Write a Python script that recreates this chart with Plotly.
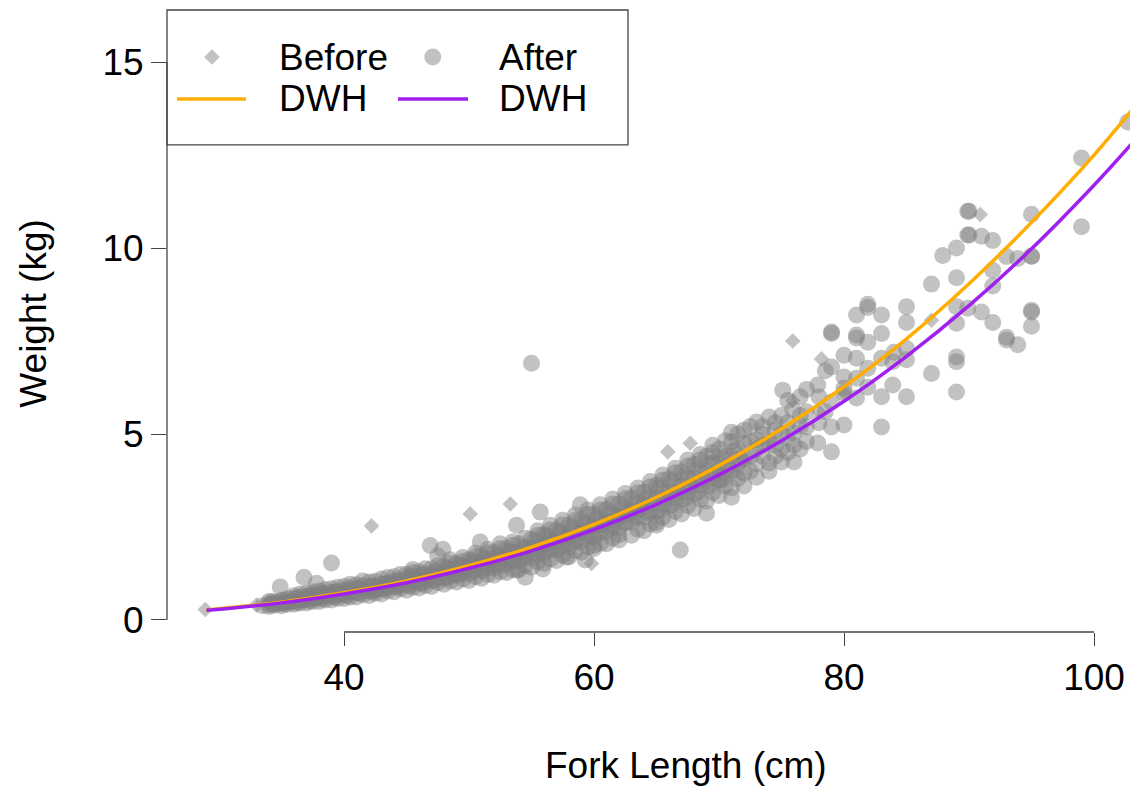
import plotly.graph_objects as go

# ---------------- data ----------------
curve_len = [29, 35, 40, 45, 50, 55, 60, 65, 70, 75, 80, 85, 90, 95, 100, 103]
before_fit = [0.27, 0.48, 0.73, 1.05, 1.46, 1.96, 2.57, 3.30, 4.15, 5.14, 6.27, 7.56, 9.04, 10.69, 12.5, 13.7]
after_fit = [0.26, 0.46, 0.70, 1.00, 1.39, 1.86, 2.43, 3.11, 3.90, 4.82, 5.88, 7.09, 8.45, 9.98, 11.69, 12.8]

before_pts = [
    (28.9, 0.28), (33, 0.40), (34, 0.45), (36, 0.52), (38, 0.62), (40, 0.72), (42.2, 2.53), (42, 0.82),
    (44, 0.95), (46, 1.10), (48, 1.25), (50.1, 2.85), (50, 1.40), (52, 1.60), (53.3, 3.12), (54, 1.80),
    (56, 2.00), (58, 2.25), (59.8, 1.52), (60, 2.50), (62, 2.80), (64, 3.05), (65.9, 4.52), (66, 3.35),
    (67.7, 4.75), (68, 3.65), (70, 4.00), (72, 4.35), (74, 4.80), (75.9, 7.50), (75.9, 5.90), (78.2, 7.02),
    (78, 5.60), (80, 6.10), (87, 8.06), (90.9, 10.90),
]

after_pts = [
    (33.5, 0.38), (34, 0.36), (34, 0.43), (34, 0.50), (34.5, 0.40), (34.5, 0.47),
    (35, 0.38), (35, 0.46), (35, 0.53), (34.9, 0.89), (35.5, 0.42), (35.5, 0.50), (35.5, 0.58),
    (36, 0.42), (36, 0.50), (36, 0.58), (36, 0.65), (36.5, 0.46), (36.5, 0.54), (36.5, 0.62), (36.5, 0.70),
    (37, 0.46), (37, 0.55), (37, 0.63), (37, 0.72), (36.8, 1.15), (37.5, 0.50), (37.5, 0.58), (37.5, 0.66), (37.5, 0.76),
    (38, 0.50), (38, 0.60), (38, 0.68), (38, 0.78), (37.8, 0.99), (38.5, 0.54), (38.5, 0.63), (38.5, 0.72), (38.5, 0.82),
    (39, 0.54), (39, 0.64), (39, 0.74), (39, 0.84), (39, 1.53), (39.5, 0.58), (39.5, 0.68), (39.5, 0.78), (39.5, 0.88),
    (40, 0.58), (40, 0.68), (40, 0.78), (40, 0.90), (40.5, 0.62), (40.5, 0.76), (40.5, 0.86), (40.5, 0.96),
    (41, 0.62), (41, 0.73), (41, 0.84), (41, 0.95), (41.5, 1.05), (41.5, 0.68), (41.5, 0.80), (41.5, 0.92),
    (42, 0.66), (42, 0.78), (42, 0.90), (42, 1.02), (42.5, 0.72), (42.5, 0.80), (42.5, 0.92), (42.5, 1.04),
    (43, 0.70), (43, 0.84), (43, 0.96), (43, 1.10), (43.5, 0.78), (43.5, 0.88), (43.5, 1.00), (43.5, 1.14),
    (44, 0.76), (44, 0.90), (44, 1.03), (44, 1.16), (44.5, 0.84), (44.5, 0.94), (44.5, 1.08), (44.5, 1.22),
    (45, 0.80), (45, 0.95), (45, 1.08), (45, 1.22), (45.5, 1.36), (45.5, 0.88), (45.5, 1.02), (45.5, 1.16), (45.5, 1.28),
    (46, 0.86), (46, 1.00), (46, 1.15), (46, 1.30), (46.5, 0.93), (46.5, 1.06), (46.5, 1.22), (46.5, 1.38),
    (47, 0.90), (47, 1.06), (47, 1.22), (47, 1.38), (47.5, 1.72), (47.5, 1.00), (47.5, 1.14), (47.5, 1.30), (47.5, 1.46),
    (48, 0.96), (48, 1.12), (48, 1.28), (48, 1.45), (48.5, 1.05), (48.5, 1.20), (48.5, 1.36), (48.5, 1.52), (48.5, 1.62),
    (49, 1.02), (49, 1.20), (49, 1.36), (49, 1.52), (49.5, 1.68), (49.5, 1.10), (49.5, 1.28), (49.5, 1.46), (49.5, 1.58),
    (50, 1.06), (50, 1.25), (50, 1.44), (50, 1.62), (50.5, 1.80), (50.5, 1.16), (50.5, 1.34), (50.5, 1.54), (50.5, 1.70),
    (51, 1.12), (51, 1.32), (51, 1.52), (51, 1.72), (51.5, 1.90), (51.5, 1.22), (51.5, 1.42), (51.5, 1.62), (51.5, 1.80),
    (52, 1.20), (52, 1.40), (52, 1.62), (52, 1.82), (52.5, 1.30), (52.5, 1.48), (52.5, 1.70), (52.5, 1.92), (52.5, 2.05),
    (53, 1.28), (53, 1.50), (53, 1.72), (53, 1.92), (53.5, 2.10), (53.5, 1.36), (53.5, 1.60), (53.5, 1.82), (53.5, 2.00),
    (54, 1.35), (54, 1.58), (54, 1.82), (54, 2.05), (54.5, 1.15), (54.5, 1.46), (54.5, 1.70), (54.5, 1.94), (54.5, 2.20),
    (55, 1.42), (55, 1.66), (55, 1.92), (55, 2.18), (55.5, 2.40), (55, 6.90), (55.5, 1.56), (55.5, 1.80), (55.5, 2.05), (55.5, 2.28),
    (56, 1.52), (56, 1.78), (56, 2.04), (56, 2.30), (56.5, 2.55), (56.5, 1.64), (56.5, 1.90), (56.5, 2.16), (56.5, 2.42),
    (57, 1.60), (57, 1.88), (57, 2.14), (57, 2.42), (57.5, 2.68), (57.5, 1.74), (57.5, 2.00), (57.5, 2.28), (57.5, 2.56),
    (58, 1.70), (58, 1.98), (58, 2.26), (58, 2.55), (58.5, 2.82), (58.5, 1.86), (58.5, 2.12), (58.5, 2.40), (58.5, 2.68),
    (59, 1.82), (59, 2.10), (59, 2.40), (59, 2.70), (59.5, 2.96), (59.5, 1.96), (59.5, 2.26), (59.5, 2.55), (59.5, 2.84),
    (60, 1.92), (60, 2.22), (60, 2.52), (60, 2.84), (60.5, 3.10), (60, 2.00), (60.5, 2.06), (60.5, 2.36), (60.5, 2.68), (60.5, 2.96),
    (61, 2.05), (61, 2.36), (61, 2.66), (61, 2.98), (61.5, 3.25), (61.5, 2.20), (61.5, 2.50), (61.5, 2.82), (61.5, 3.12),
    (62, 2.15), (62, 2.48), (62, 2.80), (62, 3.12), (62.5, 3.40), (62, 2.30), (62.5, 2.62), (62.5, 2.96), (62.5, 3.26),
    (63, 2.28), (63, 2.62), (63, 2.95), (63, 3.28), (63.5, 3.55), (63.5, 2.44), (63.5, 2.78), (63.5, 3.12), (63.5, 3.42),
    (64, 2.40), (64, 2.76), (64, 3.10), (64, 3.44), (64.5, 3.72), (64.5, 2.58), (64.5, 2.92), (64.5, 3.28), (64.5, 3.58),
    (65, 2.55), (65, 2.92), (65, 3.26), (65, 3.62), (65.5, 3.90), (65, 2.62), (65.5, 2.76), (65.5, 3.10), (65.5, 3.44), (65.5, 3.76),
    (66, 2.70), (66, 3.08), (66, 3.44), (66, 3.80), (66.5, 4.08), (66.5, 2.92), (66.5, 3.28), (66.5, 3.62), (66.5, 3.96),
    (67, 2.85), (67, 3.24), (67, 3.62), (67, 3.98), (67.5, 4.30), (66.9, 1.88), (67.5, 3.08), (67.5, 3.44), (67.5, 3.82), (67.5, 4.14),
    (68, 3.00), (68, 3.40), (68, 3.80), (68, 4.18), (68.5, 4.45), (68.5, 3.24), (68.5, 3.62), (68.5, 4.00), (68.5, 4.30),
    (69, 2.87), (69, 3.20), (69, 3.60), (69, 4.00), (69, 4.40), (69.5, 4.70), (69.5, 3.42), (69.5, 3.82), (69.5, 4.22), (69.5, 4.50),
    (70, 3.35), (70, 3.78), (70, 4.20), (70, 4.60), (70, 3.76), (70.5, 3.60), (70.5, 4.00), (70.5, 4.40), (70.5, 4.82),
    (71, 3.30), (71, 3.55), (71, 4.00), (71, 4.40), (71, 4.80), (71, 5.05), (71.5, 3.80), (71.5, 4.20), (71.5, 4.60), (71.5, 5.00),
    (72, 3.60), (72, 3.95), (72, 4.35), (72, 4.75), (72, 5.10), (72.5, 4.00), (72.5, 4.40), (72.5, 4.80), (72.5, 5.20),
    (73, 3.84), (73, 4.20), (73, 4.60), (73, 4.84), (73, 5.32), (73.5, 5.00), (73.5, 4.40), (73.5, 4.70), (73.5, 5.20),
    (74, 4.00), (74, 4.22), (74, 4.80), (74, 5.46), (74.5, 5.10), (74.5, 4.40), (74.5, 4.70), (74.5, 5.30),
    (75, 4.25), (75, 4.60), (75, 5.00), (75, 5.50), (75.1, 6.18), (75.5, 5.90), (75.5, 4.50), (75.5, 4.90), (75.5, 5.30),
    (76, 4.25), (76, 4.70), (76, 5.03), (75.9, 5.65), (76.5, 6.00), (76.5, 4.60), (76.5, 5.20), (76.5, 5.50),
    (77, 4.80), (77, 5.19), (77, 5.60), (77, 6.20),
    (77.9, 4.76), (78, 5.30), (78, 6.00), (77.9, 6.32), (78.5, 5.60), (78.5, 6.70),
    (79, 4.52), (79, 5.19), (79, 5.86), (79, 6.80), (79, 7.70), (79, 7.74),
    (80, 5.24), (80, 6.10), (80, 6.24), (80, 6.53), (80, 7.12),
    (81, 5.97), (81, 7.04), (81, 7.58), (81, 7.66), (81, 8.20), (81, 6.50),
    (81.9, 6.26), (81.9, 6.77), (81.9, 7.47), (81.9, 8.40), (81.9, 8.49),
    (83, 5.19), (83, 6.00), (83, 7.04), (83, 7.70), (83, 8.20),
    (83.9, 6.32), (83.9, 6.94), (84, 7.20),
    (85, 6.00), (85, 7.00), (85, 7.30), (85, 8.00), (85, 8.42),
    (87, 6.63), (87, 9.03), (87.9, 9.80),
    (89, 6.13), (89, 6.94), (89, 7.07), (89, 7.98), (89, 8.42), (89, 9.20), (89, 10.00),
    (89.9, 8.38), (89.9, 10.35), (89.9, 10.99), (90, 10.99), (90, 10.35),
    (91, 8.28), (91, 10.32),
    (91.9, 8.00), (91.9, 8.98), (91.9, 9.40), (91.9, 10.20),
    (93, 7.53), (93, 7.60), (93, 9.77),
    (93.9, 7.40), (93.9, 9.72),
    (95, 7.90), (95, 8.28), (95, 8.33), (95, 9.78), (95, 9.78), (95, 10.91),
    (99, 10.57), (99, 12.42), (102.7, 13.39),
    # lighter fish along the upper and lower edges of the band
    (46.9, 2.00), (47.9, 1.90), (50.9, 2.10), (53.8, 2.55), (55.7, 2.90), (58.9, 3.10),
    (53.8, 1.34), (55.9, 1.37), (57.8, 1.69), (59.3, 1.61),
]

# extra fish packed in the dense core of the band
after_core_pts = [
    (34.25, 0.40), (34.25, 0.50), (34.75, 0.46), (35.25, 0.43), (35.25, 0.53), (35.75, 0.50),
    (36.25, 0.47), (36.25, 0.58), (36.75, 0.55), (37.25, 0.52), (37.25, 0.63), (37.75, 0.60),
    (38.25, 0.57), (38.25, 0.69), (38.75, 0.65), (39.25, 0.62), (39.25, 0.74), (39.75, 0.70),
    (40.25, 0.66), (40.25, 0.80), (40.75, 0.75), (41.25, 0.71), (41.25, 0.85), (41.75, 0.80),
    (42.25, 0.77), (42.25, 0.91), (42.75, 0.86), (43.25, 0.83), (43.25, 0.97), (43.75, 0.93),
    (44.25, 0.89), (44.25, 1.05), (44.75, 1.00), (45.25, 0.92), (45.25, 1.16), (45.75, 1.06),
    (46.25, 0.99), (46.25, 1.23), (46.75, 1.14), (47.25, 1.07), (47.25, 1.31), (47.75, 1.22),
    (48.25, 1.15), (48.25, 1.39), (48.75, 1.30), (49.25, 1.23), (49.25, 1.47), (49.75, 1.38),
    (50.25, 1.32), (50.25, 1.56), (50.75, 1.47), (51.25, 1.41), (51.25, 1.65), (51.75, 1.56),
    (52.25, 1.50), (52.25, 1.74), (52.75, 1.66), (53.25, 1.60), (53.25, 1.84), (53.75, 1.76),
    (54.25, 1.70), (54.25, 1.94), (54.75, 1.86), (55.25, 1.74), (55.25, 2.14), (55.75, 1.96),
    (56.25, 1.85), (56.25, 2.25), (56.75, 2.08), (57.25, 1.96), (57.25, 2.36), (57.75, 2.20),
    (58.25, 2.08), (58.25, 2.48), (58.75, 2.32), (59.25, 2.20), (59.25, 2.60), (59.75, 2.44),
    (60.25, 2.33), (60.25, 2.73), (60.75, 2.57), (61.25, 2.46), (61.25, 2.86), (61.75, 2.70),
    (62.25, 2.60), (62.25, 3.00), (62.75, 2.84), (63.25, 2.74), (63.25, 3.14), (63.75, 2.98),
    (64.25, 2.89), (64.25, 3.29), (64.75, 3.13), (65.25, 2.95), (65.25, 3.55), (65.75, 3.28),
    (66.25, 3.10), (66.25, 3.70), (66.75, 3.44), (67.25, 3.26), (67.25, 3.86), (67.75, 3.60),
    (68.25, 3.43), (68.25, 4.03), (68.75, 3.77), (69.25, 3.60), (69.25, 4.20), (69.75, 3.94),
    (70.25, 3.77), (70.25, 4.37), (70.75, 4.12), (71.25, 3.95), (71.25, 4.55), (71.75, 4.30),
]

x_ticks = [40, 60, 80, 100]
y_ticks = [0, 5, 10, 15]
legend_labels = ["Before", "After", "DWH", "DWH"]

# ---------------- styling ----------------
FONT = "Liberation Sans, Arial, Helvetica, sans-serif"
FS = 37
PT_COLOR = "rgba(127,127,127,0.48)"
ORANGE = "#FFAD00"
PURPLE = "#A020F0"
AXIS_COLOR = "#444444"
LW = 3.5

before_x = [p[0] for p in before_pts]
before_y = [p[1] for p in before_pts]
all_after = after_pts + after_core_pts
after_x = [p[0] for p in all_after]
after_y = [p[1] for p in all_after]

fig = go.Figure()
fig.add_trace(go.Scatter(x=before_x, y=before_y, mode="markers", name="Before",
                         marker=dict(symbol="diamond", size=12, color=PT_COLOR, line=dict(width=0)),
                         showlegend=False))
fig.add_trace(go.Scatter(x=after_x, y=after_y, mode="markers", name="After",
                         marker=dict(symbol="circle", size=17, color=PT_COLOR, line=dict(width=0)),
                         showlegend=False))
fig.add_trace(go.Scatter(x=curve_len, y=before_fit, mode="lines", name="Before DWH",
                         line=dict(color=ORANGE, width=LW, shape="spline"), showlegend=False))
fig.add_trace(go.Scatter(x=curve_len, y=after_fit, mode="lines", name="After DWH",
                         line=dict(color=PURPLE, width=LW, shape="spline"), showlegend=False))

# legend symbols on an overlay axis (0..1 paper-like)
fig.add_trace(go.Scatter(x=[0.0467], y=[0.9244], mode="markers", xaxis="x2", yaxis="y2",
                         marker=dict(symbol="diamond", size=12, color=PT_COLOR), showlegend=False,
                         hoverinfo="skip"))
fig.add_trace(go.Scatter(x=[0.276], y=[0.9244], mode="markers", xaxis="x2", yaxis="y2",
                         marker=dict(symbol="circle", size=17, color=PT_COLOR), showlegend=False,
                         hoverinfo="skip"))
fig.add_trace(go.Scatter(x=[0.0104, 0.082], y=[0.857, 0.857], mode="lines", xaxis="x2", yaxis="y2",
                         line=dict(color=ORANGE, width=LW), showlegend=False, hoverinfo="skip"))
fig.add_trace(go.Scatter(x=[0.2399, 0.3126], y=[0.857, 0.857], mode="lines", xaxis="x2", yaxis="y2",
                         line=dict(color=PURPLE, width=LW), showlegend=False, hoverinfo="skip"))

shapes = [
    # R-style axis lines spanning first to last tick
    dict(type="line", xref="x", yref="paper", x0=x_ticks[0], x1=x_ticks[-1], y0=0, y1=0,
         line=dict(color=AXIS_COLOR, width=1.3)),
    dict(type="line", xref="paper", yref="y", x0=0, x1=0, y0=y_ticks[0], y1=y_ticks[-1],
         line=dict(color=AXIS_COLOR, width=1.3)),
    # legend box
    dict(type="rect", xref="paper", yref="paper", x0=0, x1=0.4787, y0=0.783, y1=1.0,
         line=dict(color=AXIS_COLOR, width=1.3), fillcolor="white", layer="below"),
]

txt_font = dict(family=FONT, size=FS, color="black")
annotations = [
    dict(text=legend_labels[0], x=0.1142, y=0.9244, xref="paper", yref="paper", xanchor="left",
         yanchor="middle", showarrow=False, font=txt_font),
    dict(text=legend_labels[1], x=0.3427, y=0.9244, xref="paper", yref="paper", xanchor="left",
         yanchor="middle", showarrow=False, font=txt_font),
    dict(text=legend_labels[2], x=0.1142, y=0.857, xref="paper", yref="paper", xanchor="left",
         yanchor="middle", showarrow=False, font=txt_font),
    dict(text=legend_labels[3], x=0.3427, y=0.857, xref="paper", yref="paper", xanchor="left",
         yanchor="middle", showarrow=False, font=txt_font),
    dict(text="Fork Length (cm)", x=0.5389, y=-0.214, xref="paper", yref="paper", xanchor="center",
         yanchor="middle", showarrow=False, font=txt_font),
    dict(text="Weight (kg)", x=-0.139, y=0.512, xref="paper", yref="paper", xanchor="center",
         yanchor="middle", textangle=-90, showarrow=False, font=txt_font),
]

fig.update_layout(
    width=1130, height=788,
    margin=dict(l=167, r=0, t=10, b=156, pad=0),
    paper_bgcolor="white", plot_bgcolor="white",
    font=txt_font,
    showlegend=False,
    xaxis=dict(range=[25.84, 102.88], showgrid=False, zeroline=False, showline=False,
               tickmode="array", tickvals=x_ticks, ticktext=[str(v) for v in x_ticks],
               ticks="outside", ticklen=13, tickwidth=1.3, tickcolor=AXIS_COLOR,
               tickfont=txt_font),
    yaxis=dict(range=[-0.323, 16.40], showgrid=False, zeroline=False, showline=False,
               tickmode="array", tickvals=y_ticks, ticktext=[str(v) for v in y_ticks],
               ticks="outside", ticklen=15, tickwidth=1.3, tickcolor=AXIS_COLOR,
               tickfont=txt_font),
    xaxis2=dict(range=[0, 1], overlaying="x", visible=False, fixedrange=True),
    yaxis2=dict(range=[0, 1], overlaying="y", visible=False, fixedrange=True),
    shapes=shapes,
    annotations=annotations,
)

fig.write_html("out.html")
